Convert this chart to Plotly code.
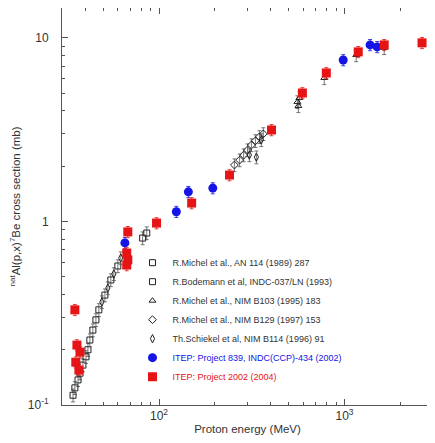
import plotly.graph_objects as go

# --- data ---
michel89_E = [34.4, 36.6, 38.9, 41.4, 44.0, 47.4, 51.1, 55.0, 60.0]
michel89_s = [0.113, 0.137, 0.165, 0.200, 0.256, 0.330, 0.397, 0.480, 0.572]

bodemann_E = [35.2, 37.5, 40.4, 42.4, 45.7, 81.6, 85.9]
bodemann_s = [0.124, 0.149, 0.183, 0.226, 0.291, 0.812, 0.865]

michel95_E = [557, 571, 564, 778, 1156, 1637]
michel95_s = [4.48, 4.71, 4.26, 6.05, 8.07, 8.83]

michel97_E = [255, 272, 286, 300, 315, 331, 348, 365]
michel97_s = [2.03, 2.16, 2.30, 2.45, 2.61, 2.75, 2.89, 3.00]

schiekel_E = [49.2, 53.0, 57.1, 62.2, 307, 335, 356]
schiekel_s = [0.364, 0.434, 0.518, 0.632, 2.30, 2.24, 2.78]

itep839_E = [65.5, 124, 144, 195, 984, 1374, 1500]
itep839_s = [0.764, 1.13, 1.45, 1.52, 7.58, 9.16, 8.93]

itep2002_E = [35.2, 36.1, 37.5, 35.6, 37.0, 67.9, 67.0, 67.9, 67.0,
              97, 150, 240, 404, 593, 798, 1186, 1637, 2618]
itep2002_s = [0.33, 0.212, 0.194, 0.171, 0.155, 0.877, 0.673, 0.617, 0.579,
              0.98, 1.26, 1.79, 3.15, 5.01, 6.44, 8.39, 9.16, 9.40]

x_tickvals = [100, 1000]
x_ticktext = ["10<sup>2</sup>", "10<sup>3</sup>"]
y_tickvals = [0.1, 1, 10]
y_ticktext = ["10<sup>-1</sup>", "1", "10"]

FONT = "Liberation Sans, Arial, sans-serif"
BLACK = "#222222"
BLUE = "#1414e6"
RED = "#e61414"
AX = "#555555"
TXT = "#333333"

fig = go.Figure()

lit = [
    ("R.Michel et al., AN 114 (1989) 287", michel89_E, michel89_s, "square-open"),
    ("R.Bodemann et al, INDC-037/LN (1993)", bodemann_E, bodemann_s, "square-open"),
    ("R.Michel et al., NIM B103 (1995) 183", michel95_E, michel95_s, "triangle-up-open"),
    ("R.Michel et al., NIM B129 (1997) 153", michel97_E, michel97_s, "diamond-open"),
    ("Th.Schiekel et al, NIM B114 (1996) 91", schiekel_E, schiekel_s, "diamond-tall-open"),
]
for name, E, s, sym in lit:
    fig.add_trace(go.Scatter(
        x=E, y=s, mode="markers", name=name,
        marker=dict(symbol=sym, size=6, color=BLACK, line=dict(width=1, color=BLACK)),
        error_y=dict(type="percent", value=8, color="#555555", thickness=0.8, width=2),
    ))

fig.add_trace(go.Scatter(
    x=itep839_E, y=itep839_s, mode="markers",
    name="<span style='color:%s'>ITEP: Project 839, INDC(CCP)-434 (2002)</span>" % BLUE,
    marker=dict(symbol="circle", size=9, color=BLUE),
    error_y=dict(type="percent", value=7, color=BLUE, thickness=0.8, width=2),
))
fig.add_trace(go.Scatter(
    x=itep2002_E, y=itep2002_s, mode="markers",
    name="<span style='color:%s'>ITEP: Project 2002 (2004)</span>" % RED,
    marker=dict(symbol="square", size=9, color=RED),
    error_y=dict(type="percent", value=7, color=RED, thickness=0.8, width=2),
))

x_minor = [40, 50, 60, 70, 80, 90, 200, 300, 400, 500, 600, 700, 800, 900, 2000, 3000]
y_minor = [0.2, 0.3, 0.4, 0.5, 0.6, 0.7, 0.8, 0.9, 2, 3, 4, 5, 6, 7, 8, 9]

axis_common = dict(
    type="log", showgrid=False, zeroline=False,
    showline=True, linecolor=AX, linewidth=1, mirror="allticks",
    ticks="inside", ticklen=6, tickcolor=AX,
    tickfont=dict(family=FONT, size=12, color=TXT),
)

fig.update_xaxes(
    **axis_common,
    range=[1.4771, 3.4771],
    tickmode="array", tickvals=x_tickvals, ticktext=x_ticktext,
    minor=dict(tickmode="array", tickvals=x_minor, ticks="inside", ticklen=3, tickcolor=AX),
    title=dict(text="Proton energy (MeV)", font=dict(family=FONT, size=11.5, color=TXT), standoff=2),
)
fig.update_yaxes(
    **axis_common,
    range=[-1, 1.163],
    tickmode="array", tickvals=y_tickvals, ticktext=y_ticktext,
    ticklabelstandoff=10,
    minor=dict(tickmode="array", tickvals=y_minor, ticks="inside", ticklen=3, tickcolor=AX),
    title=dict(text="<sup>nat</sup>Al(p,x)<sup>7</sup>Be cross section (mb)",
               font=dict(family=FONT, size=11.5, color=TXT), standoff=4),
)

fig.update_layout(
    width=435, height=443,
    margin=dict(l=54, r=10, t=0, b=46),
    paper_bgcolor="white", plot_bgcolor="white",
    legend=dict(x=0.19, y=0.395, xanchor="left", yanchor="top",
                bgcolor="rgba(0,0,0,0)", borderwidth=0,
                font=dict(family=FONT, size=9, color=TXT),
                itemwidth=30, tracegroupgap=0),
    showlegend=True,
)

fig.write_html("out.html")
